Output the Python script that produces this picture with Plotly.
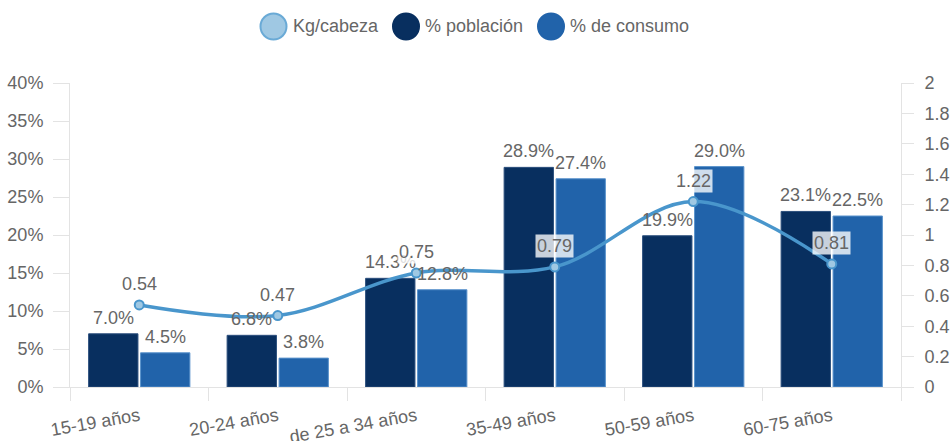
import plotly.graph_objects as go

categories = ["15-19 años", "20-24 años", "de 25 a 34 años", "35-49 años", "50-59 años", "60-75 años"]
poblacion = [7.0, 6.8, 14.3, 28.9, 19.9, 23.1]
consumo = [4.5, 3.8, 12.8, 27.4, 29.0, 22.5]
kg_cabeza = [0.54, 0.47, 0.75, 0.79, 1.22, 0.81]
legend_labels = ["Kg/cabeza", "% población", "% de consumo"]

C_DARK = "#082f5f"
C_MED = "#2163aa"
C_LINE = "#4996cc"
C_LIGHT = "#9fc8e3"
GRAY = "#666666"
AXIS = "#e3e3e3"
FONT = "Liberation Sans, Arial, sans-serif"

fig = go.Figure()
fig.add_trace(go.Bar(
    x=categories, y=poblacion, name=legend_labels[1],
    marker=dict(color=C_DARK, line=dict(color="#2b4f7d", width=1)),
    showlegend=False,
))
fig.add_trace(go.Bar(
    x=categories, y=consumo, name=legend_labels[2],
    marker=dict(color=C_MED, line=dict(color="#5b93cc", width=1)),
    showlegend=False,
))
fig.add_trace(go.Scatter(
    x=categories, y=kg_cabeza, name=legend_labels[0], yaxis="y2",
    mode="lines+markers", line=dict(color=C_LINE, width=3.5, shape="spline", smoothing=1.0),
    marker=dict(size=9, color=C_LIGHT, line=dict(color=C_LINE, width=2)),
    cliponaxis=False, showlegend=False,
))

annotations = []
# bar value labels (offset to each bar of the group)
for series, shift in ((poblacion, -26), (consumo, 26)):
    for c, v in zip(categories, series):
        annotations.append(dict(
            x=c, y=v, xref="x", yref="y", text=f"{v:.1f}%", showarrow=False,
            xshift=shift, yshift=4, yanchor="bottom",
            font=dict(size=18, color=GRAY, family=FONT),
        ))
# line value labels
for c, v in zip(categories, kg_cabeza):
    annotations.append(dict(
        x=c, y=v, xref="x", yref="y2", text=f"{v:.2f}", showarrow=False,
        yshift=21, font=dict(size=18, color=GRAY, family=FONT),
        bgcolor="rgba(255,255,255,0.78)", borderpad=1,
    ))

# custom legend (circles + text)
L, W = 70, 831
T, H = 83, 304
def px(x):
    return (x - L) / W
def py(y):
    return (T + H - y) / H

shapes = []
leg_centers = [273.5, 406, 551]
leg_fills = [C_LIGHT, C_DARK, C_MED]
leg_lines = ["#6aaad6", C_DARK, C_MED]
for cx, fc, lc, lab in zip(leg_centers, leg_fills, leg_lines, legend_labels):
    shapes.append(dict(
        type="circle", xref="paper", yref="paper",
        xsizemode="pixel", ysizemode="pixel",
        xanchor=px(cx), yanchor=py(26.5),
        x0=-13, x1=13, y0=-13, y1=13,
        fillcolor=fc, line=dict(color=lc, width=2), layer="above",
    ))
    annotations.append(dict(
        x=px(cx + 17), y=py(26), xref="paper", yref="paper", text=lab,
        showarrow=False, xanchor="left", yanchor="middle",
        font=dict(size=18, color=GRAY, family=FONT),
    ))

fig.update_layout(
    width=951, height=441,
    margin=dict(l=70, r=50, t=83, b=54),
    paper_bgcolor="white", plot_bgcolor="white",
    font=dict(family=FONT, size=18, color=GRAY),
    barmode="group", bargap=0.25, bargroupgap=0.05,
    showlegend=False,
    xaxis=dict(
        type="category", tickangle=-10, tickson="boundaries",
        ticks="outside", ticklen=13, tickcolor=AXIS, ticklabelstandoff=11,
        showline=True, linecolor=AXIS, linewidth=1, automargin=False,
        showgrid=False, tickfont=dict(size=18, color=GRAY),
    ),
    yaxis=dict(
        range=[0, 40], dtick=5, ticksuffix="%",
        ticks="outside", ticklen=16, tickcolor=AXIS, ticklabelstandoff=6,
        showline=True, linecolor=AXIS, showgrid=False, zeroline=False,
        automargin=False, tickfont=dict(size=18, color=GRAY),
    ),
    yaxis2=dict(
        range=[0, 2], dtick=0.2, overlaying="y", side="right",
        ticks="outside", ticklen=12, tickcolor=AXIS, ticklabelstandoff=7,
        showline=True, linecolor=AXIS, showgrid=False, zeroline=False,
        automargin=False, tickfont=dict(size=18, color=GRAY),
    ),
    annotations=annotations,
    shapes=shapes,
)

fig.write_html(
    "out.html",
    config={"displayModeBar": False},
    post_script="document.body.style.margin='0px';document.body.style.overflow='hidden';",
)
